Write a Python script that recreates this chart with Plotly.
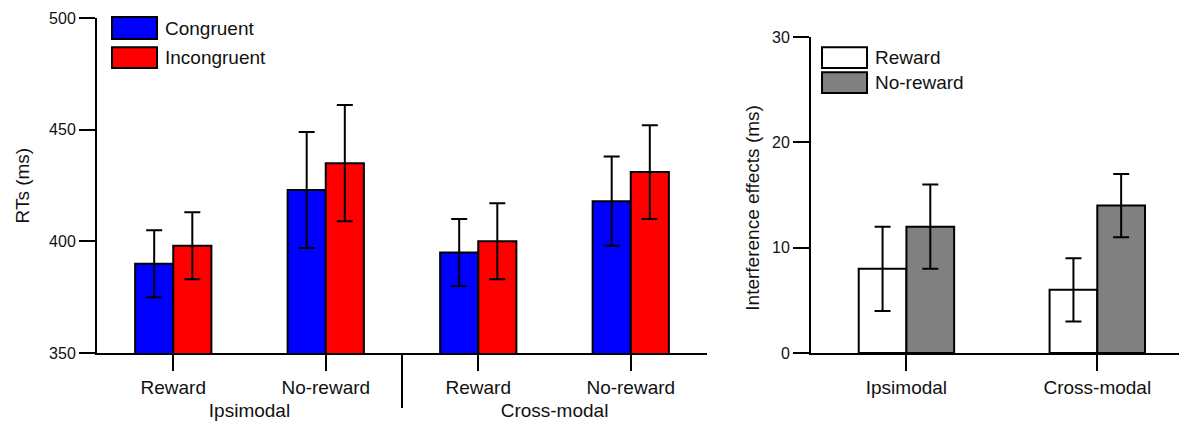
import plotly.graph_objects as go

# ---- data ----
modality = ["Ipsimodal", "Ipsimodal", "Cross-modal", "Cross-modal"]
reward_cond = ["Reward", "No-reward", "Reward", "No-reward"]
congruent_rt = [390, 423, 395, 418]
congruent_err = [15, 26, 15, 20]
incongruent_rt = [398, 435, 400, 431]
incongruent_err = [15, 26, 17, 21]

modal_cats = ["Ipsimodal", "Cross-modal"]
reward_int = [8, 6]
reward_int_err = [4, 3]
noreward_int = [12, 14]
noreward_int_err = [4, 3]

left_names = ["Congruent", "Incongruent"]
right_names = ["Reward", "No-reward"]
rt_ticks = [350, 400, 450, 500]
int_ticks = [0, 10, 20, 30]

FONT = "Liberation Sans, Arial, Helvetica, sans-serif"
BLUE, RED, GREY, WHITE = "#0000ff", "#ff0000", "#808080", "#ffffff"

fig = go.Figure()

def err(arr):
    return dict(type="data", array=arr, thickness=2, width=8, color="black")

line = dict(color="black", width=2)

fig.add_trace(go.Bar(x=[modality, reward_cond], y=congruent_rt, name=left_names[0],
                     marker=dict(color=BLUE, line=line), error_y=err(congruent_err),
                     xaxis="x", yaxis="y"))
fig.add_trace(go.Bar(x=[modality, reward_cond], y=incongruent_rt, name=left_names[1],
                     marker=dict(color=RED, line=line), error_y=err(incongruent_err),
                     xaxis="x", yaxis="y"))
fig.add_trace(go.Bar(x=modal_cats, y=reward_int, name=right_names[0],
                     marker=dict(color=WHITE, line=line), error_y=err(reward_int_err),
                     xaxis="x2", yaxis="y2"))
fig.add_trace(go.Bar(x=modal_cats, y=noreward_int, name=right_names[1],
                     marker=dict(color=GREY, line=line), error_y=err(noreward_int_err),
                     xaxis="x2", yaxis="y2"))

# page has an 8px body margin; figure sized to fit the 1187x424 window
W, H = 1179, 416
OFF = 8
axis_common = dict(showline=True, linecolor="black", linewidth=2, ticks="outside",
                   tickcolor="black", tickwidth=2, showgrid=False, zeroline=False,
                   automargin=False)

fig.update_layout(
    width=W, height=H,
    margin=dict(l=0, r=0, t=18 - OFF, b=H - (353 - OFF)),
    paper_bgcolor="white", plot_bgcolor="white",
    font=dict(family=FONT, color="#111111", size=19),
    barmode="group", bargap=0.5, bargroupgap=0,
    showlegend=False,
    xaxis=dict(domain=[(97 - OFF) / W, (707 - OFF) / W], range=[-0.5, 3.5], ticklen=16,
               tickson="labels", showdividers=False,
               tickfont=dict(size=19), **axis_common),
    yaxis=dict(domain=[0, 1], range=[350, 500], tickvals=rt_ticks, ticklen=16,
               tickfont=dict(size=16), anchor="x", **axis_common),
    xaxis2=dict(domain=[(811 - OFF) / W, 1.0], range=[-0.5, 1.47], ticklen=16,
                tickfont=dict(size=19), anchor="y2", **axis_common),
    yaxis2=dict(domain=[0, 0.943], range=[0, 30], tickvals=int_ticks, ticklen=16,
                tickfont=dict(size=16), anchor="x2", **axis_common),
)

# divider between the two modality groups (midway in the x domain)
fig.add_shape(type="line", xref="x domain", yref="y domain", x0=0.5, x1=0.5,
              y0=0, y1=-55 / 335, line=dict(color="black", width=2))

# axis titles
fig.add_annotation(text="RTs (ms)", textangle=-90, xref="paper", yref="y domain",
                   x=(22 - OFF) / W, y=0.5, xanchor="center", yanchor="middle", showarrow=False,
                   font=dict(size=19))
fig.add_annotation(text="Interference effects (ms)", textangle=-90, xref="paper", yref="y2 domain",
                   x=(753 - OFF) / W, y=0.46, xanchor="center", yanchor="middle", showarrow=False,
                   font=dict(size=19))

# manual legends
def legend_box(xr, yr, x0, x1, y0, y1, color):
    fig.add_shape(type="rect", xref=xr, yref=yr, x0=x0, x1=x1, y0=y0, y1=y1,
                  fillcolor=color, line=dict(color="black", width=2), layer="above")

legend_box("x domain", "y domain", 0.0246, 0.0984, 0.937, 1.003, BLUE)
legend_box("x domain", "y domain", 0.0246, 0.0984, 0.851, 0.913, RED)
for name, yy in zip(left_names, [0.970, 0.882]):
    fig.add_annotation(text=name, xref="x domain", yref="y domain", x=0.108, y=yy,
                       xanchor="left", yanchor="middle", showarrow=False, font=dict(size=19))

legend_box("x2 domain", "y2 domain", 0.0293, 0.149, 0.902, 0.968, WHITE)
legend_box("x2 domain", "y2 domain", 0.0293, 0.149, 0.823, 0.889, GREY)
for name, yy in zip(right_names, [0.935, 0.856]):
    fig.add_annotation(text=name, xref="x2 domain", yref="y2 domain", x=0.165, y=yy,
                       xanchor="left", yanchor="middle", showarrow=False, font=dict(size=19))

fig.write_html("out.html")
